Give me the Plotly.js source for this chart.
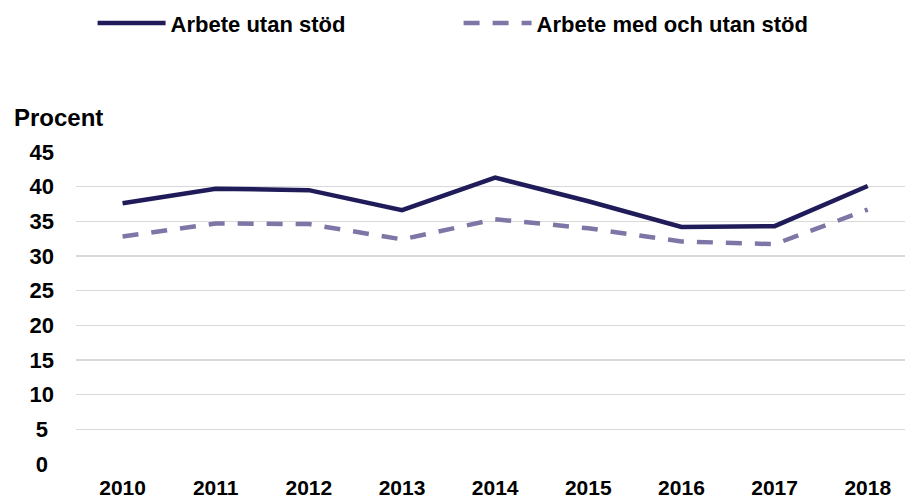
<!DOCTYPE html>
<html>
<head>
<meta charset="utf-8">
<script src="https://cdn.plot.ly/plotly-3.0.1.min.js"></script>
<style>html,body{margin:0;padding:0;background:#fff;}#chart{width:905px;height:502px;}</style>
</head>
<body>
<div id="chart"></div>
<script>
const years = ['2010','2011','2012','2013','2014','2015','2016','2017','2018'];
const utanStod = [37.6, 39.7, 39.5, 36.6, 41.3, 37.9, 34.2, 34.3, 40.1];
const medOchUtanStod = [32.8, 34.7, 34.6, 32.4, 35.3, 34.0, 32.1, 31.7, 36.7];
const seriesNames = ['Arbete utan stöd', 'Arbete med och utan stöd'];
const yTickVals = [0, 5, 10, 15, 20, 25, 30, 35, 40, 45];
const yTickText = ['0\u00a0', '5\u00a0', '10', '15', '20', '25', '30', '35', '40', '45'];
const yTitle = 'Procent';

const font = 'Liberation Sans, Arial, sans-serif';
const traces = [
  {x: years, y: utanStod, name: seriesNames[0], type: 'scatter', mode: 'lines',
   line: {color: '#201c5a', width: 4.5}},
  {x: years, y: medOchUtanStod, name: seriesNames[1], type: 'scatter', mode: 'lines',
   line: {color: '#7e76a6', width: 4.5, dash: '16px,13px'}}
];
const layout = {
  width: 905, height: 502,
  margin: {l: 76, r: 0, t: 152, b: 38},
  paper_bgcolor: '#fff', plot_bgcolor: '#fff',
  font: {family: font, size: 21, color: '#000'},
  showlegend: true,
  legend: {orientation: 'h', x: 0.02, xanchor: 'left', y: 1.413, yanchor: 'middle',
           itemwidth: 68, entrywidth: 283, entrywidthmode: 'pixels',
           font: {family: font, size: 22, color: '#000', weight: 'bold'}, bgcolor: 'rgba(0,0,0,0)'},
  xaxis: {type: 'category', range: [-0.5, 8.4], showgrid: false, zeroline: false, showline: false,
          ticks: '', ticklabelstandoff: 9, fixedrange: true, automargin: false,
          tickfont: {family: font, size: 21, color: '#000', weight: 'bold'}},
  yaxis: {range: [0, 45], tickvals: yTickVals, ticktext: yTickText, showgrid: true,
          gridcolor: '#d9d9d9', gridwidth: 1.5, zeroline: false, showline: false, ticks: '',
          ticklabelstandoff: 21, fixedrange: true, automargin: false,
          tickfont: {family: font, size: 22, color: '#000', weight: 'bold'}},
  annotations: [{text: yTitle, xref: 'paper', yref: 'paper', x: -0.0772, y: 1.109,
                 xanchor: 'left', yanchor: 'middle', showarrow: false,
                 font: {family: font, size: 24, color: '#000', weight: 'bold'}}]
};
Plotly.newPlot('chart', traces, layout, {displayModeBar: false, staticPlot: true});
</script>
</body>
</html>
